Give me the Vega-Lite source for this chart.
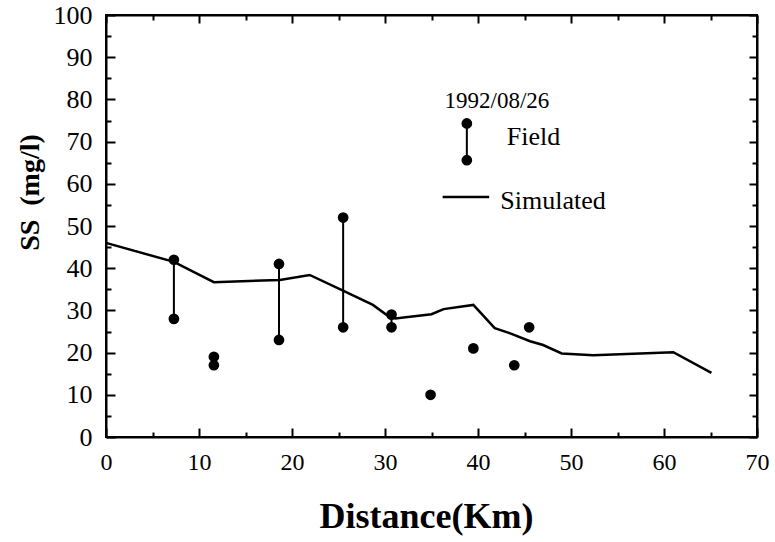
{
  "$schema": "https://vega.github.io/schema/vega-lite/v6.json",
  "width": 651,
  "height": 422,
  "autosize": {"type": "none"},
  "padding": {"left": 106, "top": 15, "right": 18, "bottom": 105},
  "background": "white",
  "config": {
    "view": {"stroke": "black", "strokeWidth": 2}
  },
  "datasets": {
    "field": [
      {"distance": 7.3, "ss": 42}, {"distance": 7.3, "ss": 28},
      {"distance": 11.6, "ss": 19}, {"distance": 11.6, "ss": 17},
      {"distance": 18.6, "ss": 41}, {"distance": 18.6, "ss": 23},
      {"distance": 25.5, "ss": 52}, {"distance": 25.5, "ss": 26},
      {"distance": 30.7, "ss": 29}, {"distance": 30.7, "ss": 26},
      {"distance": 34.9, "ss": 10}, {"distance": 39.5, "ss": 21},
      {"distance": 43.9, "ss": 17}, {"distance": 45.5, "ss": 26}
    ],
    "field_ranges": [
      {"distance": 7.3, "high": 42, "low": 28},
      {"distance": 11.6, "high": 19, "low": 17},
      {"distance": 18.6, "high": 41, "low": 23},
      {"distance": 25.5, "high": 52, "low": 26},
      {"distance": 30.7, "high": 29, "low": 26}
    ],
    "simulated": [
      {"distance": 0, "ss": 46.0}, {"distance": 7.3, "ss": 41.5},
      {"distance": 11.6, "ss": 36.7}, {"distance": 18.7, "ss": 37.2},
      {"distance": 21.9, "ss": 38.4}, {"distance": 25.2, "ss": 35.0},
      {"distance": 28.7, "ss": 31.3}, {"distance": 30.2, "ss": 28.9},
      {"distance": 31.1, "ss": 28.1}, {"distance": 35.0, "ss": 29.1},
      {"distance": 36.3, "ss": 30.3}, {"distance": 39.5, "ss": 31.3},
      {"distance": 41.8, "ss": 25.8}, {"distance": 43.4, "ss": 24.6},
      {"distance": 45.6, "ss": 22.7}, {"distance": 47.0, "ss": 21.8},
      {"distance": 49.0, "ss": 19.8}, {"distance": 52.4, "ss": 19.4},
      {"distance": 61.0, "ss": 20.1}, {"distance": 65.1, "ss": 15.2}
    ],
    "key_field_range": [{"distance": 38.8, "high": 74.3, "low": 65.6}],
    "key_field_points": [{"distance": 38.8, "ss": 74.3}, {"distance": 38.8, "ss": 65.6}],
    "key_sim": [{"from": 36.2, "to": 41.2, "ss": 56.9}],
    "key_labels": [
      {"distance": 43.1, "ss": 71.2, "text": "Field"},
      {"distance": 42.4, "ss": 56.0, "text": "Simulated"}
    ],
    "date_label": [{"distance": 36.4, "ss": 79.6, "text": "1992/08/26"}]
  },
  "resolve": {"axis": {"x": "independent", "y": "independent"}},
  "layer": [
    {
      "data": {"name": "simulated"},
      "mark": {"type": "line", "color": "black", "strokeWidth": 2.5},
      "encoding": {
        "x": {
          "field": "distance", "type": "quantitative",
          "scale": {"domain": [0, 70], "nice": false, "zero": false},
          "axis": {
            "orient": "bottom",
            "values": [0,5,10,15,20,25,30,35,40,45,50,55,60,65,70],
            "labelExpr": "datum.value % 10 === 0 ? datum.label : ''",
            "tickSize": {"condition": {"test": "datum.value % 10 === 0", "value": -9}, "value": -5},
            "tickColor": "black", "tickWidth": 2,
            "domainColor": "black", "domainWidth": 2,
            "grid": false,
            "labelFont": "Liberation Serif", "labelFontSize": 24, "labelColor": "black",
            "labelPadding": 22, "labelFlush": false, "labelOverlap": false,
            "title": "Distance(Km)",
            "titleFont": "Liberation Serif", "titleFontSize": 36, "titleFontWeight": "bold", "titleColor": "black",
            "titleX": 320, "titleY": 90, "titleAlign": "center", "titleBaseline": "alphabetic"
          }
        },
        "y": {
          "field": "ss", "type": "quantitative",
          "scale": {"domain": [0, 100], "nice": false},
          "axis": {
            "orient": "left",
            "values": [0,5,10,15,20,25,30,35,40,45,50,55,60,65,70,75,80,85,90,95,100],
            "labelExpr": "datum.value % 10 === 0 ? datum.label : ''",
            "tickSize": {"condition": {"test": "datum.value % 10 === 0", "value": -9}, "value": -5},
            "tickColor": "black", "tickWidth": 2,
            "domainColor": "black", "domainWidth": 2,
            "grid": false,
            "labelFont": "Liberation Serif", "labelFontSize": 26, "labelColor": "black",
            "labelPadding": 23, "labelFlush": false, "labelOverlap": false,
            "title": "SS\u00a0 (mg/l)",
            "titleFont": "Liberation Serif", "titleFontSize": 28, "titleFontWeight": "bold", "titleColor": "black",
            "titleX": -76, "titleY": 177, "titleAlign": "center", "titleBaseline": "middle", "titleAngle": -90
          }
        }
      }
    },
    {
      "data": {"name": "field_ranges"},
      "mark": {"type": "rule", "color": "black", "strokeWidth": 2},
      "encoding": {
        "x": {"field": "distance", "type": "quantitative", "axis": null},
        "y": {"field": "high", "type": "quantitative", "axis": null},
        "y2": {"field": "low"}
      }
    },
    {
      "data": {"name": "field"},
      "mark": {"type": "circle", "color": "black", "size": 115, "opacity": 1},
      "encoding": {
        "x": {
          "field": "distance", "type": "quantitative",
          "axis": {
            "orient": "top",
            "values": [0,5,10,15,20,25,30,35,40,45,50,55,60,65,70],
            "labels": false, "title": null, "grid": false,
            "tickSize": {"condition": {"test": "datum.value % 10 === 0", "value": -8}, "value": -5},
            "tickColor": "black", "tickWidth": 2,
            "domainColor": "black", "domainWidth": 2
          }
        },
        "y": {
          "field": "ss", "type": "quantitative",
          "axis": {
            "orient": "right",
            "values": [0,5,10,15,20,25,30,35,40,45,50,55,60,65,70,75,80,85,90,95,100],
            "labels": false, "title": null, "grid": false,
            "tickSize": {"condition": {"test": "datum.value % 10 === 0", "value": -8}, "value": -5},
            "tickColor": "black", "tickWidth": 2,
            "domainColor": "black", "domainWidth": 2
          }
        }
      }
    },
    {
      "data": {"name": "key_field_range"},
      "mark": {"type": "rule", "color": "black", "strokeWidth": 2},
      "encoding": {
        "x": {"field": "distance", "type": "quantitative", "axis": null},
        "y": {"field": "high", "type": "quantitative", "axis": null},
        "y2": {"field": "low"}
      }
    },
    {
      "data": {"name": "key_field_points"},
      "mark": {"type": "circle", "color": "black", "size": 115, "opacity": 1},
      "encoding": {
        "x": {"field": "distance", "type": "quantitative", "axis": null},
        "y": {"field": "ss", "type": "quantitative", "axis": null}
      }
    },
    {
      "data": {"name": "key_sim"},
      "mark": {"type": "rule", "color": "black", "strokeWidth": 2.5},
      "encoding": {
        "x": {"field": "from", "type": "quantitative", "axis": null},
        "x2": {"field": "to"},
        "y": {"field": "ss", "type": "quantitative", "axis": null}
      }
    },
    {
      "data": {"name": "key_labels"},
      "mark": {"type": "text", "align": "left", "baseline": "middle", "font": "Liberation Serif", "fontSize": 26, "color": "black"},
      "encoding": {
        "x": {"field": "distance", "type": "quantitative", "axis": null},
        "y": {"field": "ss", "type": "quantitative", "axis": null},
        "text": {"field": "text"}
      }
    },
    {
      "data": {"name": "date_label"},
      "mark": {"type": "text", "align": "left", "baseline": "middle", "font": "Liberation Serif", "fontSize": 23, "color": "black"},
      "encoding": {
        "x": {"field": "distance", "type": "quantitative", "axis": null},
        "y": {"field": "ss", "type": "quantitative", "axis": null},
        "text": {"field": "text"}
      }
    }
  ]
}
